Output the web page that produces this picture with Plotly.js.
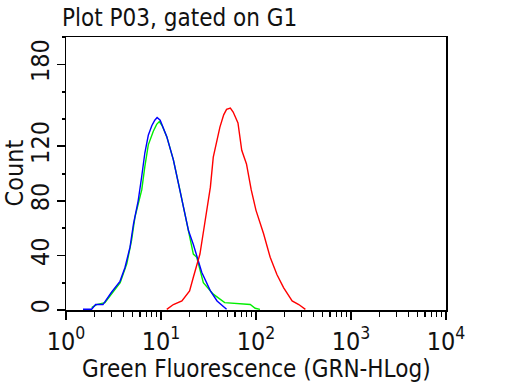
<!DOCTYPE html>
<html>
<head>
<meta charset="utf-8">
<script src="https://cdn.plot.ly/plotly-3.0.1.min.js"></script>
<style>html,body{margin:0;padding:0;background:#fff;}#chart{width:512px;height:384px;}</style>
</head>
<body>
<div id="chart"></div>
<script>
// Blue histogram
var blueX = [1.51, 1.86, 2.05, 2.45, 3.0, 3.7, 4.17, 4.72, 5.13, 5.75, 6.27, 6.76, 7.35, 8.0, 8.6, 9.1, 9.8, 10.5, 11.5, 13.5, 15.8, 17.8, 19.5, 21.9, 26.9, 33.1, 38.9, 49];
var blueY = [0.5, 0.5, 4, 4, 12.8, 21, 31, 46, 63, 80, 98, 115, 128, 135, 139, 141, 139, 134, 127, 110, 88, 71, 58, 48, 27.5, 14, 6.6, 0.5];
// Green histogram
var greenX = [1.86, 2.1, 2.57, 3.16, 3.72, 4.37, 4.9, 5.32, 6.27, 6.76, 7.35, 8.3, 9.0, 9.6, 10.3, 11.5, 13.5, 15.8, 17.8, 21.9, 23.8, 27.9, 35.5, 46.8, 87, 98, 110];
var greenY = [1.7, 4, 5.4, 14, 20, 34, 51, 68, 88, 105, 121, 131, 136, 138, 135, 127, 110, 88, 71, 41, 38.6, 20, 11.6, 5.4, 4, 1.3, 0.5];
// Red histogram
var redX = [11.5, 13.5, 16.6, 18.6, 20, 21.9, 25.7, 28.8, 33.1, 35.5, 38.9, 41.7, 45.7, 49, 53.7, 57.5, 64.6, 70.8, 79.4, 89.1, 100, 120, 141, 166, 195, 240, 282, 331];
var redY = [0.5, 4, 6.6, 11.6, 14, 24, 41, 63, 90, 112, 125, 134, 143, 147, 148, 145, 137, 117, 107, 88, 73, 56, 38.6, 26, 16.4, 6.6, 4, 0.5];

var xTickVals = [1, 10, 100, 1000, 10000];
var xTickText = ['10<sup>0</sup>', '10<sup>1</sup>', '10<sup>2</sup>', '10<sup>3</sup>', '10<sup>4</sup>'];
var yTickVals = [0, 40, 80, 120, 180];
var yTickText = ['0', '40', '80', '120', '180'];

var xMinor = [];
for (var d = 1; d < 10000; d *= 10) { for (var k = 2; k <= 9; k++) xMinor.push(d * k); }
var yMinor = [20, 60, 100, 140, 160, 200];

var font = 'DejaVu Sans Condensed, DejaVu Sans, sans-serif';

function tr(x, y, c) {
  return {x: x, y: y, type: 'scatter', mode: 'lines', line: {color: c, width: 1.4}, hoverinfo: 'skip'};
}

var data = [tr(greenX, greenY, '#00ee00'), tr(blueX, blueY, '#0000ff'), tr(redX, redY, '#ff0000')];

var layout = {
  width: 512, height: 384,
  margin: {l: 66, r: 66, t: 37, b: 74},
  paper_bgcolor: '#fff', plot_bgcolor: '#fff',
  showlegend: false,
  title: {text: 'Plot P03, gated on G1', x: 62/512, xanchor: 'left', xref: 'container',
          y: 1 - 18/384, yref: 'container', yanchor: 'middle',
          font: {family: font, size: 24, color: '#111'}},
  xaxis: {type: 'log', range: [0, 4], tickmode: 'array', tickvals: xTickVals, ticktext: xTickText,
          ticks: 'outside', ticklen: 8, tickwidth: 1.5, tickcolor: '#000',
          minor: {tickmode: 'array', tickvals: xMinor, ticks: 'outside', ticklen: 5, tickwidth: 1.2, tickcolor: '#000'},
          showgrid: false, zeroline: false, showline: true, linecolor: '#000', linewidth: 1.5, mirror: true,
          tickfont: {family: font, size: 25, color: '#111'}},
  yaxis: {range: [0, 200], tickmode: 'array', tickvals: yTickVals, ticktext: yTickText, tickangle: -90,
          ticks: 'outside', ticklen: 8, tickwidth: 1.5, tickcolor: '#000', ticklabelstandoff: -2,
          minor: {tickmode: 'array', tickvals: yMinor, ticks: 'outside', ticklen: 3, tickwidth: 2, tickcolor: '#000'},
          showgrid: false, zeroline: false, showline: true, linecolor: '#000', linewidth: 1.5, mirror: true,
          tickfont: {family: font, size: 25, color: '#111'}},
  annotations: [
    {text: 'Green Fluorescence (GRN-HLog)', xref: 'paper', yref: 'paper', x: 0.5, y: 0, yshift: -59,
     xanchor: 'center', yanchor: 'middle', showarrow: false, font: {family: font, size: 24, color: '#111'}},
    {text: 'Count', xref: 'paper', yref: 'paper', x: 0, xshift: -52, y: 0.5, yshift: 0, textangle: -90,
     xanchor: 'center', yanchor: 'middle', showarrow: false, font: {family: font, size: 25, color: '#111'}}
  ]
};

Plotly.newPlot('chart', data, layout, {staticPlot: true, displayModeBar: false});
</script>
</body>
</html>
